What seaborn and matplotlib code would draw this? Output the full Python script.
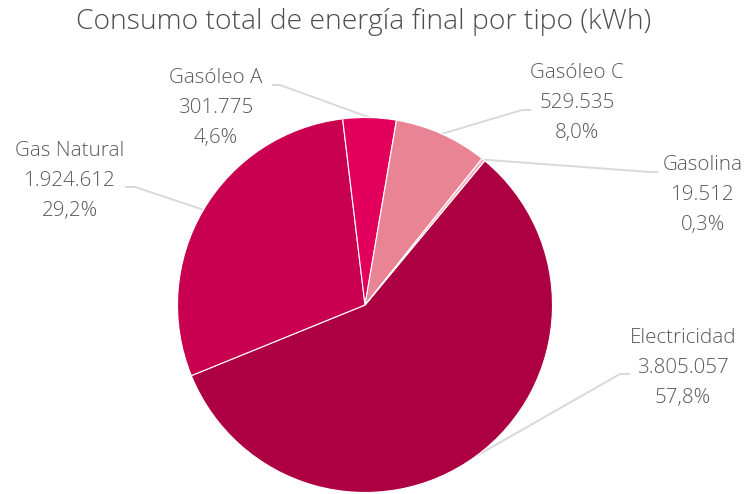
import numpy as np
import matplotlib
matplotlib.use("Agg")
import matplotlib.pyplot as plt
import seaborn as sns

# data
tipos = ["Electricidad", "Gas Natural", "Gasóleo A", "Gasóleo C", "Gasolina"]
consumo_kwh = [3805057, 1924612, 301775, 529535, 19512]
colores = ["#AD0042", "#C9004F", "#E2005C", "#E98494", "#F0B1BD"]

W, H = 747, 494
centro = (365, H - 305)
radio = 187.5

# label text centres and elbow of the leader lines (pixels from top-left)
pos_texto = [(683, 368), (70, 181), (216, 108), (577, 103), (703, 195)]
codo = [((620, 374), (630, 374)), ((135, 187), (125, 187)),
        ((280, 85), (272, 85)), ((522, 110), (531, 110)),
        ((650, 172), (658, 172))]

sns.set_theme(style="white")
plt.rcParams['font.family'] = ['Open Sans', 'DejaVu Sans']
gris = "#595959"

fig = plt.figure(figsize=(W / 100, H / 100), dpi=100)
ax = fig.add_axes([0, 0, 1, 1])

total = sum(consumo_kwh)
wedges, _ = ax.pie(consumo_kwh, colors=colores, startangle=50.3, counterclock=False,
                   center=centro, radius=radio, frame=True,
                   wedgeprops=dict(edgecolor="white", linewidth=0.8))
ax.set_xlim(0, W)
ax.set_ylim(0, H)
ax.set_aspect("auto")
ax.axis("off")

def fmt_miles(v):
    return f"{v:,}".replace(",", ".")

for w, nombre, val, (tx, ty), (c1, c2) in zip(wedges, tipos, consumo_kwh, pos_texto, codo):
    ang = np.deg2rad((w.theta1 + w.theta2) / 2)
    mx = centro[0] + radio * np.cos(ang)
    my = centro[1] + radio * np.sin(ang)
    ax.plot([mx, c1[0], c2[0]], [my, H - c1[1], H - c2[1]], color="#D9D9D9", lw=1.4,
            solid_capstyle="butt", zorder=0)
    pct = f"{100 * val / total:.1f}".replace(".", ",") + "%"
    ax.text(tx, H - ty, f"{nombre}\n{fmt_miles(val)}\n{pct}", ha="center", va="center",
            fontsize=14.8, color=gris, linespacing=1.68, fontweight="light")

fig.text(364 / W, 1 - 22 / H, "Consumo total de energía final por tipo (kWh)",
         ha="center", va="center", fontsize=20.3, color="#4D4D4D", fontweight="light")

fig.savefig("out.png", dpi=100, facecolor="white")
